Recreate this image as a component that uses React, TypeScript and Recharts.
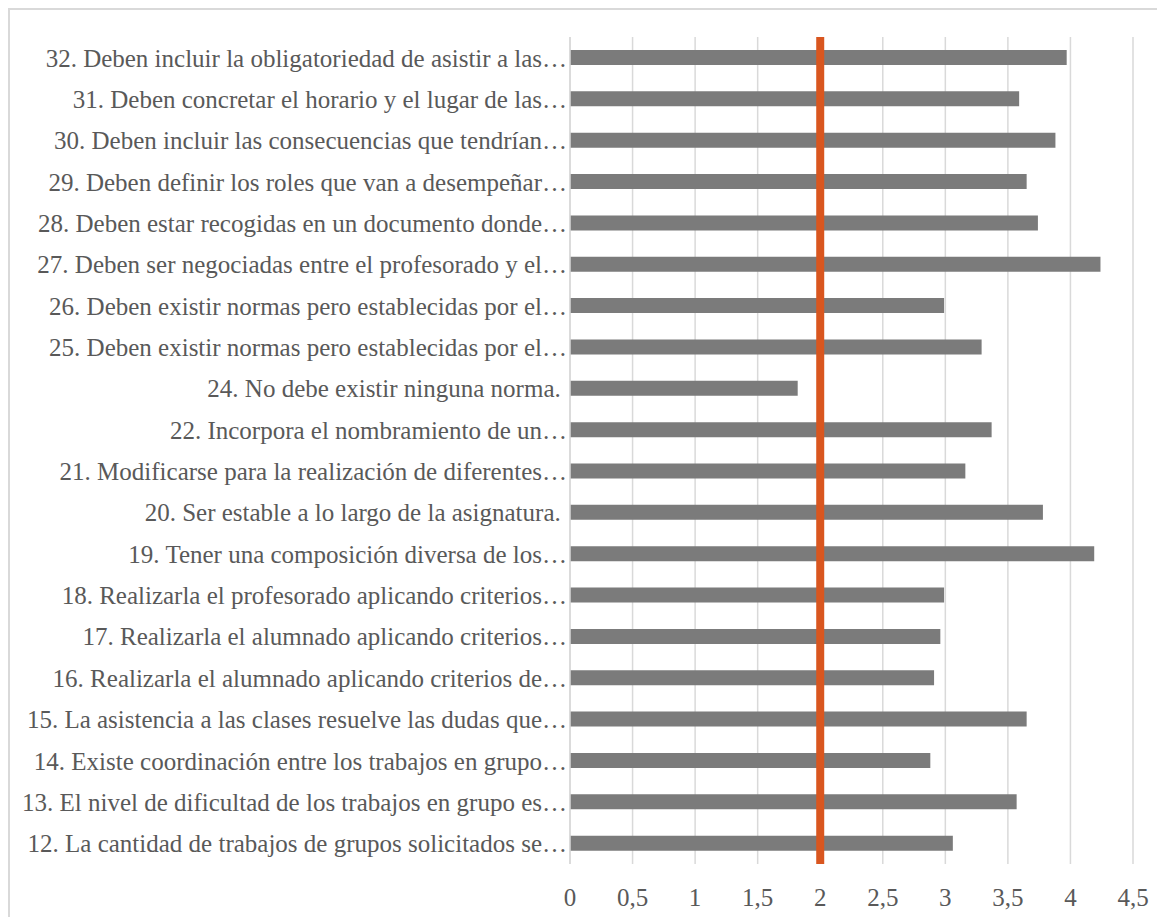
import React from "react";
import { BarChart, Bar, XAxis, YAxis, CartesianGrid, ReferenceLine } from "recharts";

// survey items, top to bottom as in the chart
const items = [
  "32. Deben incluir la obligatoriedad de asistir a las…",
  "31. Deben concretar el horario y el lugar de las…",
  "30. Deben incluir las consecuencias que tendrían…",
  "29. Deben definir los roles que van a desempeñar…",
  "28. Deben estar recogidas en un documento donde…",
  "27. Deben ser negociadas entre el profesorado y el…",
  "26. Deben existir normas pero establecidas por el…",
  "25. Deben existir normas pero establecidas por el…",
  "24. No debe existir ninguna norma.\u00a0",
  "22. Incorpora el nombramiento de un…",
  "21. Modificarse para la realización de diferentes…",
  "20. Ser estable a lo largo de la asignatura.\u00a0",
  "19. Tener una composición diversa de los…",
  "18. Realizarla el profesorado aplicando criterios…",
  "17. Realizarla el alumnado aplicando criterios…",
  "16. Realizarla el alumnado aplicando criterios de…",
  "15. La asistencia a las clases resuelve las dudas que…",
  "14. Existe coordinación entre los trabajos en grupo…",
  "13. El nivel de dificultad de los trabajos en grupo es…",
  "12. La cantidad de trabajos de grupos solicitados se…",
];

const means = [
  3.97, 3.59, 3.88, 3.65, 3.74, 4.24, 2.99, 3.29, 1.82, 3.37,
  3.16, 3.78, 4.19, 2.99, 2.96, 2.91, 3.65, 2.88, 3.57, 3.06,
];

const xTicks = [0, 0.5, 1, 1.5, 2, 2.5, 3, 3.5, 4, 4.5];
const threshold = 2;

const data = items.map((name, i) => ({ name, value: means[i] }));

const FONT = "'Liberation Serif', serif";

export default function App() {
  return (
    <div
      style={{
        width: 1157,
        height: 909,
        borderTop: "2px solid #d9d9d9",
        borderLeft: "2px solid #d9d9d9",
        background: "#fff",
        fontFamily: FONT,
      }}
    >
      <BarChart
        width={1155}
        height={907}
        data={data}
        layout="vertical"
        margin={{ top: 27, right: 32, bottom: 0, left: 0 }}
      >
        <CartesianGrid horizontal={false} stroke="#d9d9d9" strokeWidth={1.5} />
        <XAxis
          type="number"
          domain={[0, 4.5]}
          ticks={xTicks}
          interval={0}
          height={53}
          axisLine={false}
          tickLine={false}
          tickSize={0}
          tickMargin={24}
          tickFormatter={(v) => String(v).replace(".", ",")}
          tick={{ fill: "#595959", fontSize: 25, fontFamily: FONT }}
        />
        <YAxis
          type="category"
          dataKey="name"
          width={560}
          interval={0}
          axisLine={{ stroke: "#d9d9d9", strokeWidth: 1.5 }}
          tickLine={false}
          tickSize={0}
          tickMargin={3}
          tick={{ fill: "#595959", fontSize: 25, fontFamily: FONT }}
        />
        <Bar dataKey="value" fill="#7b7b7b" barSize={15} isAnimationActive={false} />
        <ReferenceLine x={threshold} stroke="#d9561f" strokeWidth={8} />
      </BarChart>
    </div>
  );
}
